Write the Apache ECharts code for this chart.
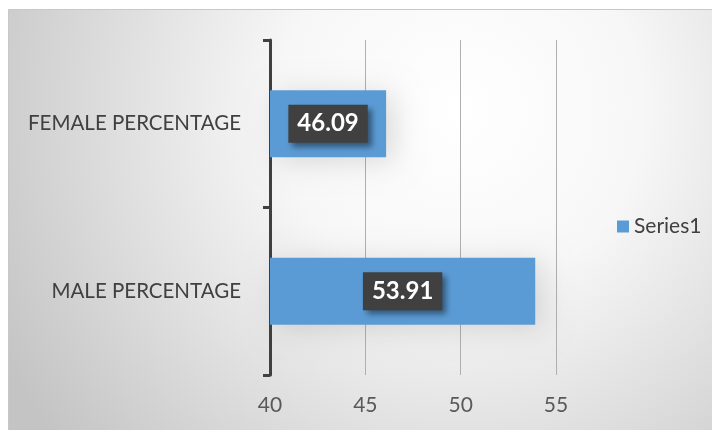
<!DOCTYPE html>
<html>
<head>
<meta charset="utf-8">
<script src="https://cdn.jsdelivr.net/npm/echarts@6/dist/echarts.min.js"></script>
<style>
  html, body { margin: 0; padding: 0; background: #fff; }
  #chart { width: 712px; height: 430px; }
</style>
</head>
<body>
<div id="chart"></div>
<script>
// data
const categories = ['MALE PERCENTAGE', 'FEMALE PERCENTAGE'];
const seriesName = 'Series1';
const values = [53.91, 46.09];
const xTicks = [40, 45, 50, 55];

const FONT = 'Lato, "Open Sans", sans-serif';
const chart = echarts.init(document.getElementById('chart'));

chart.setOption({
  animation: false,
  textStyle: { fontFamily: FONT },
  graphic: [{
    type: 'rect',
    z: -10,
    shape: { x: 8.5, y: 9.5, width: 710, height: 430 },
    style: {
      fill: {
        type: 'radial', global: true, x: 460, y: 110, r: 520,
        colorStops: [
          { offset: 0, color: '#ffffff' },
          { offset: 0.35, color: '#f7f7f7' },
          { offset: 1, color: '#c4c4c4' }
        ]
      },
      stroke: '#c8c8c8',
      lineWidth: 1
    }
  }],
  grid: { left: 270, right: 156, top: 40, bottom: 55 },
  legend: {
    data: [seriesName],
    left: 612, top: 211,
    icon: 'rect', itemWidth: 12, itemHeight: 12, itemGap: 6,
    textStyle: { fontSize: 21, color: '#404040', fontFamily: FONT }
  },
  xAxis: {
    type: 'value',
    min: xTicks[0], max: xTicks[xTicks.length - 1], interval: 5,
    axisLine: { show: false },
    axisTick: { show: false },
    axisLabel: { fontSize: 21, color: '#595959', margin: 20, fontFamily: FONT },
    splitLine: { lineStyle: { color: '#b0b0b0', width: 1 } }
  },
  yAxis: {
    type: 'category',
    data: categories,
    axisLine: { lineStyle: { color: '#404040', width: 3 } },
    axisTick: { show: true, length: 7, lineStyle: { color: '#404040', width: 3 } },
    axisLabel: { fontSize: 20.5, color: '#404040', margin: 29, fontFamily: FONT }
  },
  series: [{
    name: seriesName,
    type: 'bar',
    data: values,
    barWidth: '40%',
    itemStyle: {
      color: '#5b9bd5',
      shadowColor: 'rgba(0,0,0,0.13)',
      shadowBlur: 28,
      shadowOffsetX: 8,
      shadowOffsetY: 4
    },
    label: {
      show: true,
      position: 'inside',
      formatter: p => p.value.toFixed(2),
      backgroundColor: '#404040',
      color: '#ffffff',
      fontWeight: 'bold',
      fontSize: 24,
      fontFamily: FONT,
      padding: [8, 9, 6, 9],
      shadowColor: 'rgba(0,0,0,0.45)',
      shadowBlur: 6,
      shadowOffsetX: 4,
      shadowOffsetY: 4
    },
    emphasis: { disabled: true }
  }]
});
</script>
</body>
</html>
